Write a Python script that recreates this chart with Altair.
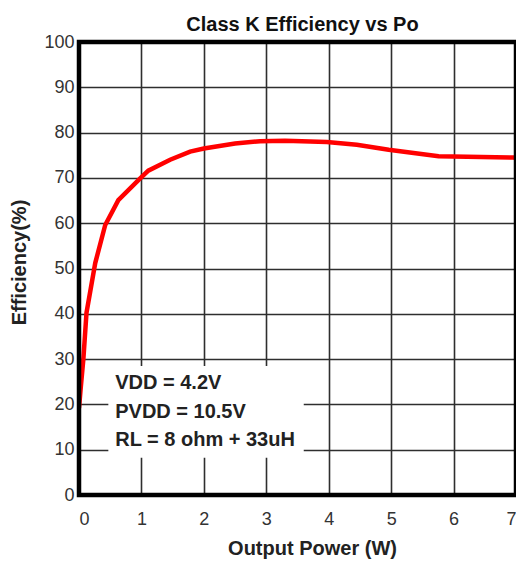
import altair as alt
import pandas as pd

# Efficiency curve
power_w = [0.0, 0.03, 0.07, 0.12, 0.26, 0.42, 0.63, 0.98, 1.11, 1.46, 1.78, 2.0, 2.5, 2.9, 3.3, 3.97, 4.45, 4.96, 5.76, 6.96, 7.0]
efficiency = [19.2, 24.0, 30.0, 40.2, 51.2, 59.6, 65.1, 69.9, 71.6, 74.0, 75.8, 76.5, 77.6, 78.1, 78.2, 77.9, 77.3, 76.2, 74.8, 74.5, 74.4]

x_ticks = [0, 1, 2, 3, 4, 5, 6, 7]
y_ticks = [0, 10, 20, 30, 40, 50, 60, 70, 80, 90, 100]

note_lines = ["VDD = 4.2V", "PVDD = 10.5V", "RL = 8 ohm + 33uH"]
note_y = [24.7, 18.3, 12.1]
note_x = [0.58, 0.58, 0.58]

box_x = [0.47]
box_x2 = [3.6]
box_y = [8.2]
box_y2 = [28.5]

frame_x = [0]
frame_x2 = [7]
frame_y = [0]
frame_y2 = [100]

curve = pd.DataFrame({"p": power_w, "e": efficiency})
notes = pd.DataFrame({"t": note_lines, "x": note_x, "y": note_y})
box = pd.DataFrame({"x": box_x, "x2": box_x2, "y": box_y, "y2": box_y2})
frame_df = pd.DataFrame({"x": frame_x, "x2": frame_x2, "y": frame_y, "y2": frame_y2})

FONT = "Liberation Sans"

xscale = alt.Scale(domain=[0, 7], nice=False, zero=False)
yscale = alt.Scale(domain=[0, 100], nice=False)

line = alt.Chart(curve).mark_line(color="#ff0000", strokeWidth=4.5, clip=True).encode(
    x=alt.X("p:Q", scale=xscale,
            axis=alt.Axis(title="Output Power (W)", values=x_ticks, format="d",
                          labelFont=FONT, labelFontSize=18, labelColor="#333333",
                          labelPadding=15, tickSize=0, domain=False,
                          grid=True, gridColor="#2e2e2e", gridWidth=1.6, gridOpacity=1,
                          titleFont=FONT, titleFontSize=20, titleFontWeight="bold",
                          titleColor="#222222", titleX=233, titleY=59,
                          titleBaseline="alphabetic")),
    y=alt.Y("e:Q", scale=yscale,
            axis=alt.Axis(title="Efficiency(%)", values=y_ticks, format="d",
                          labelFont=FONT, labelFontSize=18, labelColor="#333333",
                          labelPadding=5, tickSize=0, domain=False,
                          grid=True, gridColor="#2e2e2e", gridWidth=1.6, gridOpacity=1,
                          titleFont=FONT, titleFontSize=20, titleFontWeight="bold",
                          titleColor="#222222", titleX=-60, titleY=220,
                          titleBaseline="middle")),
)

rect = alt.Chart(box).mark_rect(color="white").encode(
    x=alt.X("x:Q", scale=xscale), x2="x2:Q",
    y=alt.Y("y:Q", scale=yscale), y2="y2:Q",
)

text = alt.Chart(notes).mark_text(
    align="left", baseline="middle", font=FONT, fontSize=20, fontWeight="bold", color="#222222"
).encode(
    x=alt.X("x:Q", scale=xscale), y=alt.Y("y:Q", scale=yscale), text="t:N"
)

frame = alt.Chart(frame_df).mark_rect(
    fill="transparent", fillOpacity=0, stroke="#000000", strokeWidth=4.5, strokeOpacity=1
).encode(
    x=alt.X("x:Q", scale=xscale), x2="x2:Q",
    y=alt.Y("y:Q", scale=yscale), y2="y2:Q",
)

chart = alt.layer(rect, line, text, frame).properties(
    width=437, height=453,
    title=alt.TitleParams("Class K Efficiency vs Po", font=FONT, fontSize=20,
                          fontWeight="bold", color="#111111", anchor="middle",
                          offset=11, dx=5, dy=13),
    autosize=alt.AutoSizeParams(type="none"),
    padding={"left": 71, "top": 34, "right": 0, "bottom": 66},
    background="white",
).configure_view(strokeWidth=0)

chart.save("out.html", embed_options={"renderer": "svg", "actions": False})
